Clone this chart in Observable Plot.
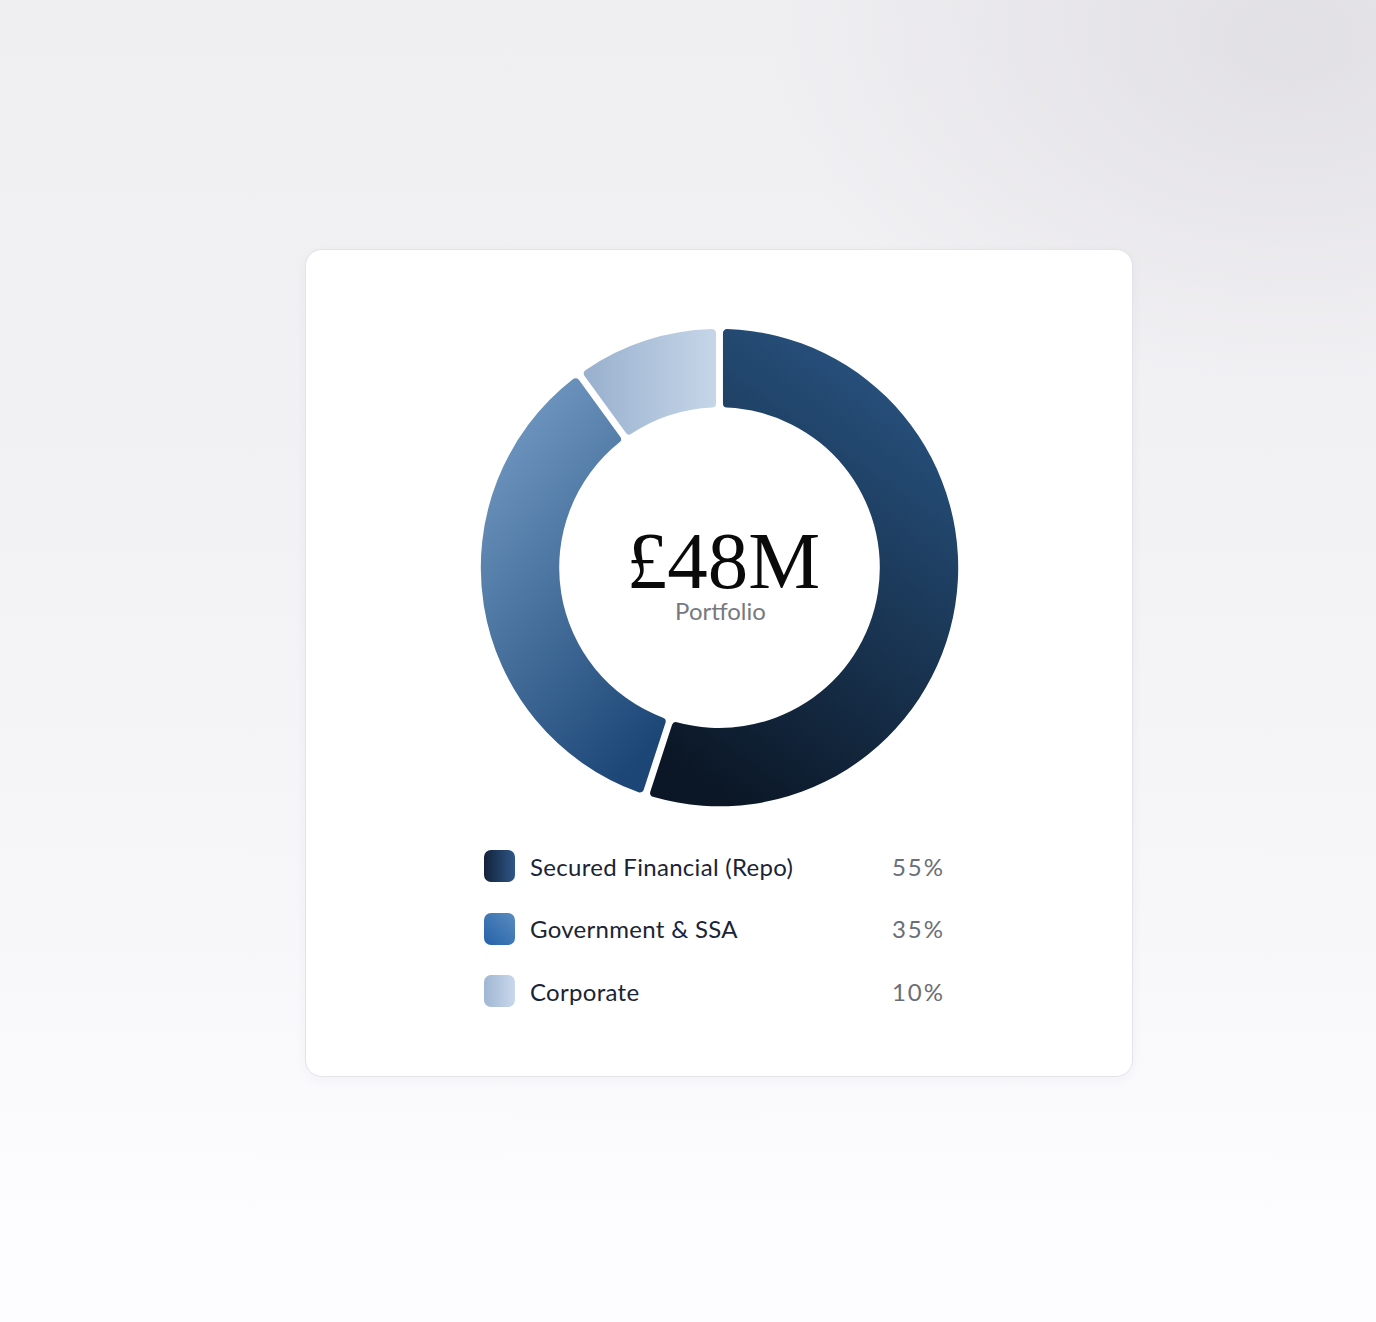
<!DOCTYPE html>
<html>
<head>
<meta charset="utf-8">
<script src="https://cdn.jsdelivr.net/npm/d3@7"></script>
<script src="https://cdn.jsdelivr.net/npm/@observablehq/plot@0.6"></script>
<style>
  html, body { margin: 0; padding: 0; }
  body {
    width: 1376px; height: 1322px; position: relative; overflow: hidden;
    background:
      radial-gradient(ellipse 520px 360px at 1290px 40px, rgba(214,212,218,0.55), rgba(214,212,218,0) 100%),
      linear-gradient(180deg, #efeef1 0%, #f2f1f4 40%, #f7f6f9 70%, #fcfbfd 90%, #fdfcfe 100%);
    font-family: Lato, "Open Sans", sans-serif;
  }
  #card {
    position: absolute; left: 305px; top: 249px; width: 828px; height: 828px;
    box-sizing: border-box; background: #ffffff; border: 1px solid #e4e3ea;
    border-radius: 17px; box-shadow: 0 3px 12px rgba(40,40,70,0.04);
  }
  #chart { position: absolute; left: 1px; top: 1px; }
  #legend { position: absolute; left: 178px; top: 585px; width: 459px; }
  .row { display: flex; align-items: center; height: 62.5px; }
  .sw { width: 31px; height: 32px; border-radius: 7px; flex: none; }
  .lab { margin-left: 15px; font-size: 24px; color: #1b2434; flex: 1; letter-spacing: 0.3px; }
  .pct { font-size: 24px; color: #6b6e76; text-align: right; letter-spacing: 2px; margin-right: -2px; }
</style>
</head>
<body>
<div id="card">
  <div id="chart"></div>
  <div id="legend"></div>
</div>
<script>
const categories = ["Secured Financial (Repo)", "Government & SSA", "Corporate"];
const shares = [55, 35, 10];
const shareLabels = ["55%", "35%", "10%"];
const centerValue = "£48M";
const centerLabel = "Portfolio";

// segment gradient stops [start, end] and direction
const segGradients = [
  {stops: ["#295583", "#0b1726"], x1: 0.75, y1: 0, x2: 0.3, y2: 1},
  {stops: ["#739bc4", "#1c4676"], x1: 0.2, y1: 0, x2: 0.7, y2: 1},
  {stops: ["#98b0ce", "#c6d6e8"], x1: 0, y1: 0.5, x2: 1, y2: 0.5}
];
const swatchGradients = [
  "linear-gradient(90deg, #13223a 0%, #2e5787 100%)",
  "linear-gradient(225deg, #5a8cc0 0%, #2462a8 100%)",
  "linear-gradient(90deg, #a0b6d3 0%, #c9d8eb 100%)"
];

const data = categories.map((c, i) => ({category: c, value: shares[i]}));

const W = 826, H = 590, CX = 413, CY = 317, R_OUT = 239, R_IN = 160.5;

const chart = Plot.plot({
  width: W,
  height: H,
  margin: 0,
  style: {background: "transparent", overflow: "visible"},
  x: {domain: [0, d3.sum(shares)], range: [0, 2 * Math.PI], axis: null},
  marks: [
    Plot.barX(data, Plot.stackX({
      x: "value",
      order: null,
      render(index, scales, values, dimensions) {
        const g = d3.create("svg:g");
        const defs = g.append("defs");
        segGradients.forEach((gr, i) => {
          const lg = defs.append("linearGradient")
            .attr("id", "seg-grad-" + i)
            .attr("x1", gr.x1).attr("y1", gr.y1).attr("x2", gr.x2).attr("y2", gr.y2);
          lg.append("stop").attr("offset", 0).attr("stop-color", gr.stops[0]);
          lg.append("stop").attr("offset", 1).attr("stop-color", gr.stops[1]);
        });
        const arc = d3.arc()
          .innerRadius(R_IN)
          .outerRadius(R_OUT)
          .cornerRadius(4)
          .padAngle(0.024);
        for (const i of index) {
          g.append("path")
            .attr("transform", `translate(${CX},${CY})`)
            .attr("d", arc({startAngle: values.x1[i], endAngle: values.x2[i]}))
            .attr("fill", `url(#seg-grad-${i})`);
        }
        return g.node();
      }
    })),
    Plot.text([centerValue], {
      text: d => d,
      frameAnchor: "top",
      lineAnchor: "middle",
      dy: 311,
      dx: 3.5,
      fontSize: 81,
      fontFamily: "'Liberation Serif', 'DejaVu Serif', serif",
      fill: "#0a0a0a",
      style: {letterSpacing: "7px"}
    }),
    Plot.text([centerLabel], {
      text: d => d,
      frameAnchor: "top",
      lineAnchor: "middle",
      dy: 361,
      dx: 0.5,
      fontSize: 24,
      fontFamily: "Lato, 'Open Sans', sans-serif",
      fill: "#77797f",
      style: {letterSpacing: "0.4px"}
    })
  ]
});
document.getElementById("chart").appendChild(chart);

const legend = document.getElementById("legend");
categories.forEach((c, i) => {
  const row = document.createElement("div");
  row.className = "row";
  const sw = document.createElement("div");
  sw.className = "sw";
  sw.style.background = swatchGradients[i];
  const lab = document.createElement("div");
  lab.className = "lab";
  lab.textContent = c;
  const pct = document.createElement("div");
  pct.className = "pct";
  pct.textContent = shareLabels[i];
  row.append(sw, lab, pct);
  legend.appendChild(row);
});
</script>
</body>
</html>
